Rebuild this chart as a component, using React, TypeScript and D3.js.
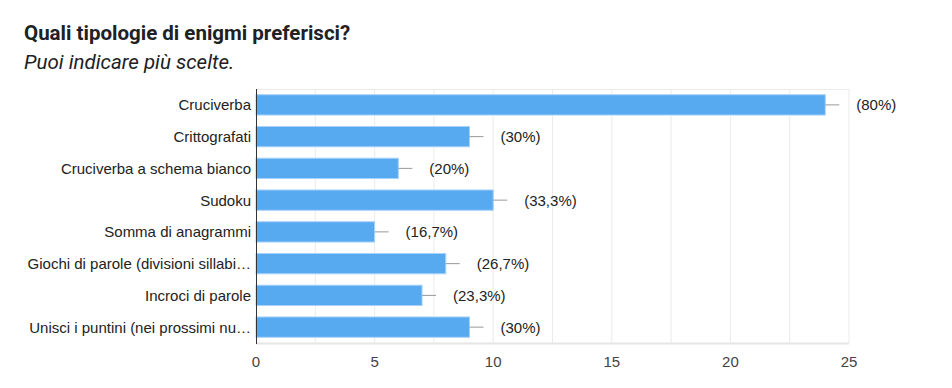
import React, { useEffect, useRef } from 'react';
import * as d3 from 'd3';

const categories = [
  'Cruciverba',
  'Crittografati',
  'Cruciverba a schema bianco',
  'Sudoku',
  'Somma di anagrammi',
  'Giochi di parole (divisioni sillabi…',
  'Incroci di parole',
  'Unisci i puntini (nei prossimi nu…',
];
const counts = [24, 9, 6, 10, 5, 8, 7, 9];
const percentLabels = ['(80%)', '(30%)', '(20%)', '(33,3%)', '(16,7%)', '(26,7%)', '(23,3%)', '(30%)'];
const xTicks = [0, 5, 10, 15, 20, 25];
const gridValues = [2.5, 5, 7.5, 10, 12.5, 15, 17.5, 20, 22.5, 25];

const App = () => {
  const ref = useRef<SVGSVGElement | null>(null);

  useEffect(() => {
    if (!ref.current) return;
    const svg = d3.select(ref.current);
    svg.selectAll('*').remove();

    const width = 952;
    const height = 388;
    const m = { left: 256, right: 103, top: 89, bottom: 45 };
    const font = '"Liberation Sans", Arial, sans-serif';

    svg.attr('width', width).attr('height', height);

    // titolo + sottotitolo
    svg.append('text')
      .attr('x', 24).attr('y', 40)
      .style('font-family', 'Roboto, sans-serif')
      .style('font-weight', 'bold')
      .style('font-size', '20.5px')
      .style('fill', '#202124')
      .text('Quali tipologie di enigmi preferisci?');

    svg.append('text')
      .attr('x', 24).attr('y', 69)
      .style('font-family', 'Roboto, sans-serif')
      .style('font-style', 'italic')
      .style('font-size', '20.5px')
      .style('fill', '#202124')
      .text('Puoi indicare più scelte.');

    const x = d3.scaleLinear().domain([0, 25]).range([m.left, width - m.right]);
    const y = d3.scaleBand().domain(categories).range([m.top, height - m.bottom]).paddingInner(0.36).paddingOuter(0.18);

    const plot = svg.append('g');

    // griglia
    plot.selectAll('.grid')
      .data(gridValues)
      .enter()
      .append('line')
      .attr('x1', d => x(d)).attr('x2', d => x(d))
      .attr('y1', m.top).attr('y2', height - m.bottom)
      .attr('stroke', '#ebebeb')
      .attr('stroke-width', 1);

    plot.append('line')
      .attr('x1', m.left).attr('x2', x(25))
      .attr('y1', m.top + 0.5).attr('y2', m.top + 0.5)
      .attr('stroke', '#ebebeb');
    plot.append('line')
      .attr('x1', m.left).attr('x2', x(25))
      .attr('y1', height - m.bottom + 0.5).attr('y2', height - m.bottom + 0.5)
      .attr('stroke', '#e6e6e6').attr('stroke-width', 2);

    const rows = categories.map((c, i) => ({ c, v: counts[i], p: percentLabels[i] }));

    const bars = plot.selectAll('.bar')
      .data(rows)
      .enter()
      .append('g');

    bars.append('rect')
      .attr('x', m.left)
      .attr('y', d => y(d.c)!)
      .attr('width', d => x(d.v) - m.left)
      .attr('height', y.bandwidth())
      .attr('fill', '#57a9f0')
      .attr('stroke', '#a9d2f7')
      .attr('stroke-width', 1);

    bars.append('line')
      .attr('x1', d => x(d.v)).attr('x2', d => x(d.v) + 14)
      .attr('y1', d => y(d.c)! + y.bandwidth() / 2)
      .attr('y2', d => y(d.c)! + y.bandwidth() / 2)
      .attr('stroke', '#999')
      .attr('stroke-width', 1);

    bars.append('text')
      .attr('x', d => x(d.v) + 31)
      .attr('y', d => y(d.c)! + y.bandwidth() / 2)
      .attr('dy', '0.36em')
      .style('font-family', font)
      .style('font-size', '15px')
      .style('fill', '#222')
      .text(d => d.p);

    // etichette categorie
    plot.selectAll('.ylab')
      .data(rows)
      .enter()
      .append('text')
      .attr('x', m.left - 5)
      .attr('y', d => y(d.c)! + y.bandwidth() / 2)
      .attr('dy', '0.36em')
      .attr('text-anchor', 'end')
      .style('font-family', font)
      .style('font-size', '15px')
      .style('fill', '#222')
      .text(d => d.c);

    // asse zero
    plot.append('line')
      .attr('x1', m.left + 0.5).attr('x2', m.left + 0.5)
      .attr('y1', m.top).attr('y2', height - m.bottom + 1)
      .attr('stroke', '#333')
      .attr('stroke-width', 1);

    plot.selectAll('.xt')
      .data(xTicks)
      .enter()
      .append('text')
      .attr('x', d => x(d))
      .attr('y', 367)
      .attr('text-anchor', 'middle')
      .style('font-family', font)
      .style('font-size', '15px')
      .style('fill', '#444')
      .text(d => d);
  }, []);

  return (
    <div style={{ margin: -8, background: '#fff', width: 952, height: 388 }}>
      <svg ref={ref} style={{ display: 'block' }} />
    </div>
  );
};

export default App;
